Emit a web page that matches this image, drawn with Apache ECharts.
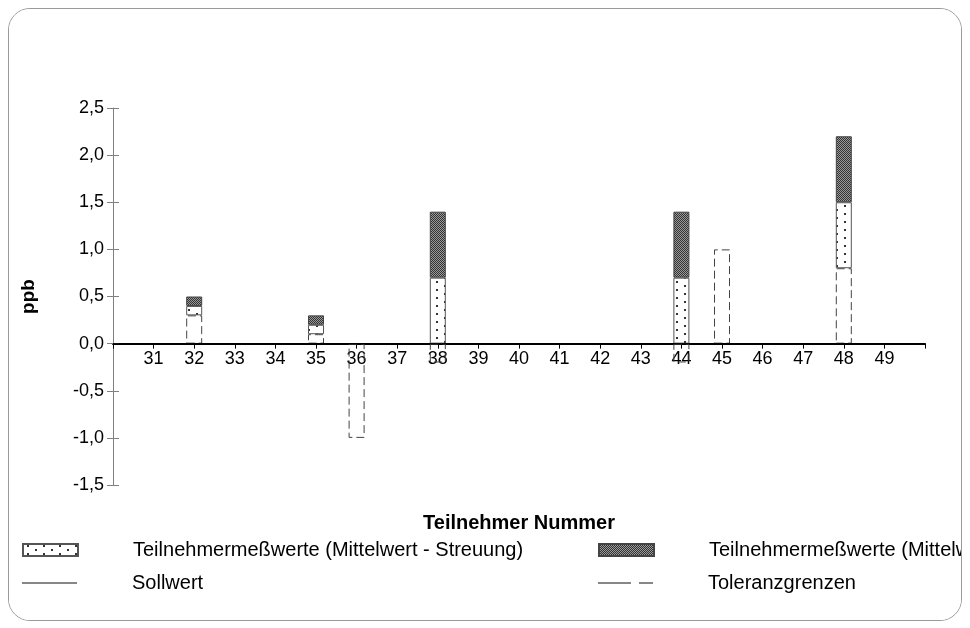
<!DOCTYPE html>
<html><head><meta charset="utf-8">
<script src="https://cdn.jsdelivr.net/npm/echarts@6/dist/echarts.min.js"></script>
<style>
html,body{margin:0;padding:0;background:#fff;width:970px;height:628px;overflow:hidden}
#frame{position:absolute;left:8px;top:8px;width:952px;height:611px;border:1px solid #9a9a9a;border-radius:22px;overflow:hidden;background:#fff}
#chart{position:absolute;left:-9px;top:-9px;width:970px;height:628px}
</style></head>
<body><div id="frame"><div id="chart"></div></div>
<script>
// ---- data ----
// axis positions 30 and 50 are empty frame slots (no label)
const categories = ['', '31','32','33','34','35','36','37','38','39','40','41','42','43','44','45','46','47','48','49', ''];
// Toleranzgrenzen (dashed boxes, lower stacked part)
const tolBase   = ['-','-',0.3,'-','-',0.1,-1.0,'-',-0.2,'-','-','-','-','-',-0.2,1.0,'-','-',0.8,'-','-'];
// Teilnehmermeßwerte (Mittelwert - Streuung) segment
const segLower  = ['-','-',0.1,'-','-',0.1,'-','-',0.7,'-','-','-','-','-',0.7,'-','-','-',0.7,'-','-'];
// Teilnehmermeßwerte (Mittelwert + Streuung) segment
const segUpper  = ['-','-',0.1,'-','-',0.1,'-','-',0.7,'-','-','-','-','-',0.7,'-','-','-',0.7,'-','-'];
// Sollwert
const sollwert  = [0,0,0,0,0,0,0,0,0,0,0,0,0,0,0,0,0,0,0,0,0];
const yTickValues = [-1.5,-1.0,-0.5,0,0.5,1.0,1.5,2.0,2.5];
const yMin = -1.5, yMax = 2.5;

const FONT = 'Liberation Sans, Arial, sans-serif';
const GRID_TOP = 108, GRID_BOTTOM = 143, H = 628;
const plotH = H - GRID_TOP - GRID_BOTTOM;
// move x axis (line, ticks, labels, name) up from the grid bottom to the 0 line
const zeroOffset = -plotH * (0 - yMin) / (yMax - yMin);

function makePattern(w,h,draw){
  const c=document.createElement('canvas');c.width=w;c.height=h;
  const g=c.getContext('2d');draw(g);return c;
}
const dotted = makePattern(16,8,g=>{
  g.fillStyle='#fff';g.fillRect(0,0,16,8);
  g.fillStyle='#333';g.fillRect(4,1,2,2);g.fillRect(12,5,2,2);
});
const dark = makePattern(2,2,g=>{
  g.fillStyle='#9a9a9a';g.fillRect(0,0,2,2);
  g.fillStyle='#333';g.fillRect(0,0,1,1);g.fillRect(1,1,1,1);
});

const chart = echarts.init(document.getElementById('chart'), null, {renderer:'canvas'});
const legendCommon = {
  orient:'horizontal', padding:0, itemWidth:55, itemHeight:12, selectedMode:false,
  textStyle:{fontFamily:FONT,fontSize:20,color:'#000',padding:[0,0,0,50]}
};
chart.setOption({
  animation:false,
  backgroundColor:'#fff',
  grid:{left:113,right:45,top:GRID_TOP,bottom:GRID_BOTTOM,containLabel:false,outerBoundsMode:'none'},
  xAxis:{
    type:'category',data:categories,boundaryGap:false,position:'bottom',offset:zeroOffset,
    name:'Teilnehmer Nummer',nameLocation:'middle',nameGap:170,
    nameTextStyle:{fontFamily:FONT,fontSize:20,fontWeight:'bold',color:'#000'},
    axisLine:{onZero:false,lineStyle:{color:'#000',width:2}},
    axisTick:{show:true,length:5,interval:0,lineStyle:{color:'#000',width:1}},
    axisLabel:{fontFamily:FONT,fontSize:18,color:'#000',margin:6,interval:0},
    splitLine:{show:false}
  },
  yAxis:[{
    type:'value',min:yMin,max:yMax,interval:0.5,
    name:'ppb',nameLocation:'middle',nameGap:75,
    nameTextStyle:{fontFamily:FONT,fontSize:19,fontWeight:'bold',color:'#000'},
    axisLine:{show:true,lineStyle:{color:'#808080',width:1}},
    axisTick:{show:true,length:6,lineStyle:{color:'#808080'}},
    axisLabel:{fontFamily:FONT,fontSize:18,color:'#000',margin:9,
      formatter:v=>{const t=yTickValues.find(x=>Math.abs(x-v)<1e-9);return t===undefined?'':t.toFixed(1).replace('.',',');}},
    splitLine:{show:false}
  },{
    type:'value',min:yMin,max:yMax,interval:0.5,position:'left',
    axisLine:{show:false},axisLabel:{show:false},splitLine:{show:false},
    axisTick:{show:true,inside:true,length:6,lineStyle:{color:'#808080'}}
  }],
  legend:[
    Object.assign({},legendCommon,{left:22,top:540,data:[{name:'Teilnehmermeßwerte (Mittelwert - Streuung)',icon:'rect'}]}),
    Object.assign({},legendCommon,{left:598,top:540,data:[{name:'Teilnehmermeßwerte (Mittelwert + Streuung)',icon:'rect'}]}),
    Object.assign({},legendCommon,{left:22,top:573,itemHeight:1.5,data:[{name:'Sollwert',
      icon:'path://M0,0H55V1H0Z',itemStyle:{color:'#111',borderWidth:0}}]}),
    Object.assign({},legendCommon,{left:598,top:573,itemHeight:1.5,data:[{name:'Toleranzgrenzen',
      icon:'path://M0,0H33V1H0Z M41,0H55V1H41Z',itemStyle:{color:'#111',borderWidth:0}}]})
  ],
  series:[
    {name:'Toleranzgrenzen',type:'bar',stack:'p',barWidth:16,data:tolBase,
      itemStyle:{color:'rgba(255,255,255,0)',borderColor:'#444',borderWidth:1,borderType:[8,4]}},
    {name:'Teilnehmermeßwerte (Mittelwert - Streuung)',type:'bar',stack:'p',barWidth:16,data:segLower,
      itemStyle:{color:{image:dotted,repeat:'repeat'},borderColor:'#555',borderWidth:1}},
    {name:'Teilnehmermeßwerte (Mittelwert + Streuung)',type:'bar',stack:'p',barWidth:16,data:segUpper,
      itemStyle:{color:{image:dark,repeat:'repeat'},borderColor:'#444',borderWidth:1}},
    {name:'Sollwert',type:'line',data:sollwert,symbol:'none',z:5,color:'#000',
      lineStyle:{color:'#000',width:1}}
  ]
});
</script></body></html>
